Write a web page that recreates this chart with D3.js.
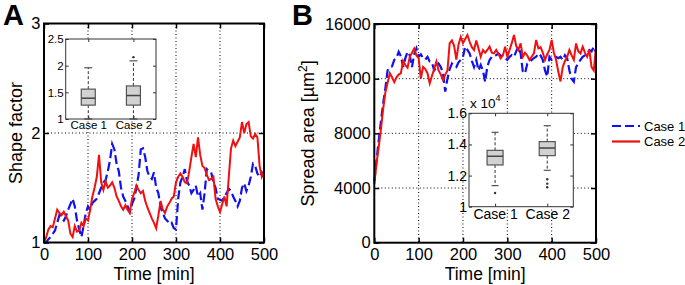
<!DOCTYPE html>
<html>
<head>
<meta charset="utf-8">
<script src="https://cdn.jsdelivr.net/npm/d3@7"></script>
<style>
body { margin: 0; background: #fff; }
text { font-family: "Liberation Sans", Arial, sans-serif; fill: #000; }
</style>
</head>
<body>
<div id="chart-area"></div>
<script>
// data: sampled every 5 min from 0 to 500
const step = 5;
const timeTicks = [0, 100, 200, 300, 400, 500];
const seriesNames = ['Case 1', 'Case 2'];

const shapeCase1 = [1.0, 1.0, 1.03, 1.05, 1.08, 1.11, 1.18, 1.25, 1.22, 1.2, 1.24, 1.3, 1.35, 1.4, 1.33, 1.2, 1.12, 1.05, 1.15, 1.27,
    1.33, 1.3, 1.36, 1.38, 1.4, 1.45, 1.5, 1.55, 1.57, 1.65, 1.75, 1.9, 1.85, 1.72, 1.65, 1.5, 1.42, 1.38, 1.33, 1.28,
    1.35, 1.4, 1.5, 1.62, 1.85, 1.86, 1.78, 1.65, 1.6, 1.58, 1.64, 1.5, 1.45, 1.32, 1.27, 1.22, 1.2, 1.17, 1.18, 1.13,
    1.12, 1.4, 1.55, 1.6, 1.67, 1.56, 1.52, 1.45, 1.48, 1.52, 1.42, 1.45, 1.3, 1.45, 1.67, 1.65, 1.64, 1.55, 1.5, 1.4,
    1.39, 1.38, 1.42, 1.45, 1.49, 1.47, 1.42, 1.38, 1.33, 1.38, 1.5, 1.54, 1.47, 1.52, 1.6, 1.72, 1.7, 1.63, 1.6, 1.64, 1.6];
const shapeCase2 = [1.0, 1.05, 1.12, 1.15, 1.14, 1.22, 1.3, 1.27, 1.25, 1.28, 1.24, 1.2, 1.08, 1.05, 1.15, 1.1, 1.11, 1.18, 1.15, 1.22,
    1.2, 1.3, 1.42, 1.5, 1.6, 1.8, 1.55, 1.48, 1.56, 1.5, 1.52, 1.55, 1.5, 1.42, 1.38, 1.33, 1.3, 1.34, 1.3, 1.27,
    1.4, 1.45, 1.52, 1.48, 1.45, 1.47, 1.38, 1.32, 1.27, 1.22, 1.18, 1.13, 1.25, 1.38, 1.3, 1.27, 1.33, 1.36, 1.4, 1.42,
    1.55, 1.6, 1.63, 1.6, 1.55, 1.54, 1.65, 1.78, 1.9, 1.78, 1.96, 1.8, 1.7, 1.68, 1.62, 1.57, 1.58, 1.6, 1.4, 1.33,
    1.28, 1.35, 1.42, 1.33, 1.6, 1.86, 1.93, 1.88, 1.92, 1.96, 2.1, 2.0, 2.08, 2.1, 1.97, 1.95, 1.99, 1.96, 1.7, 1.6, 1.65];

const areaCase1 = [4500, 6000, 7500, 8900, 10200, 11300, 12600, 12850, 12900, 13370, 13500, 13970, 13650, 12850, 13500, 13970, 13700, 12850, 13800, 14220,
    13600, 13780, 13500, 13400, 13600, 13250, 13200, 12600, 12800, 13100, 12850, 12400, 11050, 12000, 12700, 13100, 12900, 12850, 13200, 13370,
    13600, 14340, 14100, 13850, 13300, 12850, 13370, 12600, 13000, 12600, 11780, 12900, 13370, 13600, 13700, 13720, 13850, 13700, 13600, 13500,
    13370, 13600, 13720, 13600, 14000, 14340, 13850, 12510, 12390, 13100, 13200, 13370, 13500, 13600, 13850, 13700, 13370, 12600, 12140, 13600,
    13370, 13450, 13600, 13500, 13600, 13370, 13720, 13500, 12600, 12000, 11780, 12850, 13100, 13370, 13600, 13700, 13850, 14100, 14000, 14340, 13900];
const areaCase2 = [4300, 5800, 7000, 8300, 9800, 11000, 11700, 12400, 12100, 11750, 12100, 12300, 12400, 13300, 13000, 12800, 13600, 13900, 14200, 13700,
    13500, 12000, 12850, 12700, 12400, 11660, 12200, 12700, 13250, 12600, 12300, 11900, 12300, 12600, 14600, 14800, 14400, 13400, 14500, 15050,
    14600, 14900, 15200, 14700, 14300, 14100, 14800, 14200, 13600, 14100, 13900, 14100, 14350, 13900, 13850, 14100, 13800, 13480, 13700, 14340,
    13600, 14100, 14600, 15200, 14400, 14100, 14580, 13600, 13900, 13700, 13370, 13600, 13850, 14830, 14220, 14300, 13900, 13370, 13800, 14100,
    14830, 13900, 13370, 12500, 11800, 12850, 13300, 13600, 14100, 13700, 13370, 14580, 14000, 13850, 14340, 13900, 13600, 14100, 12850, 12600, 14300];

// box plot stats (low whisker, q1, median, q3, high whisker, outliers)
const shapeBoxLow = [1.0, 1.0];
const shapeBoxQ1 = [1.26, 1.26];
const shapeBoxMedian = [1.39, 1.44];
const shapeBoxQ3 = [1.56, 1.62];
const shapeBoxHigh = [1.96, 2.09];
const shapeBoxOutliers = [[], [2.16]];

// spread area box plot in units of 10^4 um^2
const areaBoxLow = [1.135, 1.234];
const areaBoxQ1 = [1.268, 1.328];
const areaBoxMedian = [1.324, 1.377];
const areaBoxQ3 = [1.362, 1.418];
const areaBoxHigh = [1.478, 1.52];
const areaBoxOutliers = [[1.088], [1.176, 1.148, 1.125]];

const colors = ['#1010f0', '#f01010'];

const svg = d3.select('#chart-area')
    .append('svg')
        .attr('width', 685)
        .attr('height', 285);

function drawPanel(p) {
    const g = svg.append('g');
    const x = d3.scaleLinear().domain([0, 500]).range([p.left, p.right]);
    const y = d3.scaleLinear().domain(p.yDomain).range([p.bottom, p.top]);

    // dotted grid
    g.selectAll('.vgrid')
        .data([100, 200, 300, 400])
        .enter()
            .append('line')
                .attr('x1', d => x(d)).attr('x2', d => x(d))
                .attr('y1', p.top).attr('y2', p.bottom)
                .attr('stroke', '#000')
                .attr('stroke-width', 1)
                .attr('stroke-dasharray', '1,2.5');
    g.selectAll('.hgrid')
        .data(p.yGrid)
        .enter()
            .append('line')
                .attr('x1', p.left).attr('x2', p.right)
                .attr('y1', d => y(d)).attr('y2', d => y(d))
                .attr('stroke', '#000')
                .attr('stroke-width', 1)
                .attr('stroke-dasharray', '1,2.5');

    p.drawInset(g);

    // series
    const line = d3.line()
        .x((d, i) => x(i * step))
        .y(d => y(d));
    g.append('path')
        .datum(p.series[0])
        .attr('d', line)
        .attr('fill', 'none')
        .attr('stroke', colors[0])
        .attr('stroke-width', 2.2)
        .attr('stroke-dasharray', '9,4');
    g.append('path')
        .datum(p.series[1])
        .attr('d', line)
        .attr('fill', 'none')
        .attr('stroke', colors[1])
        .attr('stroke-width', 2);

    // axes with inward ticks on all four sides
    const bottom = g.append('g')
        .attr('transform', `translate(0, ${p.bottom})`)
        .call(d3.axisBottom(x).tickValues(timeTicks).tickSize(-5).tickPadding(6));
    const top = g.append('g')
        .attr('transform', `translate(0, ${p.top})`)
        .call(d3.axisTop(x).tickValues(timeTicks).tickSize(-5).tickFormat(''));
    const left = g.append('g')
        .attr('transform', `translate(${p.left}, 0)`)
        .call(d3.axisLeft(y).tickValues(p.yTicks).tickSize(-5).tickPadding(3.5).tickFormat(p.yFormat));
    const right = g.append('g')
        .attr('transform', `translate(${p.right}, 0)`)
        .call(d3.axisRight(y).tickValues(p.yTicks).tickSize(-5).tickFormat(''));
    [bottom, top, left, right].forEach(a => {
        a.select('.domain').remove();
        a.selectAll('line').attr('stroke', '#000').attr('stroke-width', 1.5);
        a.selectAll('text').attr('font-size', '16.5px').attr('fill', '#000');
    });

    g.append('rect')
        .attr('x', p.left).attr('y', p.top)
        .attr('width', p.right - p.left).attr('height', p.bottom - p.top)
        .attr('fill', 'none')
        .attr('stroke', '#000')
        .attr('stroke-width', 2);

    // labels
    g.append('text')
        .attr('x', (p.left + p.right) / 2)
        .attr('y', 280)
        .attr('font-size', '17.5px')
        .attr('text-anchor', 'middle')
        .text('Time [min]');

    const yl = g.append('text')
        .attr('transform', `translate(${p.yLabelX}, ${(p.top + p.bottom) / 2}) rotate(-90)`)
        .attr('font-size', '18px')
        .attr('text-anchor', 'middle');
    p.yLabel(yl);

    g.append('text')
        .attr('x', p.letterX)
        .attr('y', 25)
        .attr('font-size', '29px')
        .attr('font-weight', 'bold')
        .text(p.letter);
}

function drawBoxInset(g, b) {
    const ig = g.append('g');
    const x = d3.scaleLinear().domain([0.5, 2.5]).range([b.left, b.right]);
    const y = d3.scaleLinear().domain(b.yDomain).range([b.bottom, b.top]);

    ig.append('rect')
        .attr('x', b.left).attr('y', b.top)
        .attr('width', b.right - b.left).attr('height', b.bottom - b.top)
        .attr('fill', '#fff');

    const pos = [1, 2];
    pos.forEach((p, i) => {
        const cx = x(p);
        // whiskers
        [[b.q3[i], b.high[i]], [b.q1[i], b.low[i]]].forEach(w => {
            ig.append('line')
                .attr('x1', cx).attr('x2', cx)
                .attr('y1', y(w[0])).attr('y2', y(w[1]))
                .attr('stroke', '#333')
                .attr('stroke-width', 1)
                .attr('stroke-dasharray', '3,2');
        });
        [b.high[i], b.low[i]].forEach(v => {
            ig.append('line')
                .attr('x1', cx - b.capW / 2).attr('x2', cx + b.capW / 2)
                .attr('y1', y(v)).attr('y2', y(v))
                .attr('stroke', '#333')
                .attr('stroke-width', 1);
        });
        ig.append('rect')
            .attr('x', cx - b.boxW / 2)
            .attr('y', y(b.q3[i]))
            .attr('width', b.boxW)
            .attr('height', y(b.q1[i]) - y(b.q3[i]))
            .attr('fill', '#d2d2d2')
            .attr('stroke', '#555')
            .attr('stroke-width', 1.2);
        ig.append('line')
            .attr('x1', cx - b.boxW / 2).attr('x2', cx + b.boxW / 2)
            .attr('y1', y(b.median[i])).attr('y2', y(b.median[i]))
            .attr('stroke', '#444')
            .attr('stroke-width', 1.5);
        ig.selectAll(null)
            .data(b.outliers[i])
            .enter()
                .append('circle')
                    .attr('cx', cx)
                    .attr('cy', d => y(d))
                    .attr('r', 1.2)
                    .attr('fill', '#333');
    });

    const ax = [
        g.append('g').attr('transform', `translate(0, ${b.bottom})`)
            .call(d3.axisBottom(x).tickValues(pos).tickSize(-3).tickPadding(2).tickFormat((d, i) => seriesNames[i])),
        g.append('g').attr('transform', `translate(0, ${b.top})`)
            .call(d3.axisTop(x).tickValues(pos).tickSize(-3).tickFormat('')),
        g.append('g').attr('transform', `translate(${b.left}, 0)`)
            .call(d3.axisLeft(y).tickValues(b.yTicks).tickSize(-3).tickPadding(2).tickFormat(b.yFormat)),
        g.append('g').attr('transform', `translate(${b.right}, 0)`)
            .call(d3.axisRight(y).tickValues(b.yTicks).tickSize(-3).tickFormat(''))
    ];
    ax.forEach(a => {
        a.select('.domain').remove();
        a.selectAll('line').attr('stroke', '#333');
        a.selectAll('text').attr('font-size', b.fontSize).attr('fill', '#000');
    });

    ig.append('rect')
        .attr('x', b.left).attr('y', b.top)
        .attr('width', b.right - b.left).attr('height', b.bottom - b.top)
        .attr('fill', 'none')
        .attr('stroke', '#333')
        .attr('stroke-width', 1);
    return ig;
}

// panel A
drawPanel({
    letter: 'A', letterX: 3,
    left: 44, right: 264, top: 23.5, bottom: 242.5,
    yDomain: [1, 3], yTicks: [1, 2, 3], yGrid: [2],
    yFormat: d3.format('d'),
    yLabelX: 22,
    yLabel: t => t.text('Shape factor'),
    series: [shapeCase1, shapeCase2],
    drawInset: g => drawBoxInset(g, {
        left: 65.7, right: 156, top: 39, bottom: 119,
        yDomain: [1, 2.5], yTicks: [1, 1.5, 2, 2.5], yFormat: d => d,
        boxW: 14, capW: 8, fontSize: '11.5px',
        low: shapeBoxLow, q1: shapeBoxQ1, median: shapeBoxMedian, q3: shapeBoxQ3,
        high: shapeBoxHigh, outliers: shapeBoxOutliers
    })
});

// panel B
drawPanel({
    letter: 'B', letterX: 292,
    left: 374.3, right: 596, top: 24, bottom: 242.7,
    yDomain: [0, 16000], yTicks: [0, 4000, 8000, 12000, 16000], yGrid: [4000, 8000, 12000],
    yFormat: d3.format('d'),
    yLabelX: 314,
    yLabel: t => {
        t.append('tspan').text('Spread area [µm');
        t.append('tspan').attr('font-size', '12px').attr('dy', -7).text('2');
        t.append('tspan').attr('dy', 7).text(']');
    },
    series: [areaCase1, areaCase2],
    drawInset: g => {
        drawBoxInset(g, {
            left: 469, right: 573.3, top: 113.3, bottom: 206.7,
            yDomain: [1, 1.6], yTicks: [1, 1.2, 1.4, 1.6],
            yFormat: d => d === 1 ? '1' : d3.format('.1f')(d),
            boxW: 16, capW: 7, fontSize: '14px',
            low: areaBoxLow, q1: areaBoxQ1, median: areaBoxMedian, q3: areaBoxQ3,
            high: areaBoxHigh, outliers: areaBoxOutliers
        });
        const e = g.append('text')
            .attr('x', 470)
            .attr('y', 108)
            .attr('font-size', '13.5px');
        e.append('tspan').text('x 10');
        e.append('tspan').attr('font-size', '9px').attr('dy', -7).text('4');
    }
});

// legend
const legend = svg.append('g')
    .attr('transform', 'translate(612, 126)');
seriesNames.forEach((name, i) => {
    const row = legend.append('g').attr('transform', `translate(0, ${i * 15.5})`);
    row.append('line')
        .attr('x1', 0).attr('x2', 28)
        .attr('stroke', colors[i])
        .attr('stroke-width', 2.2)
        .attr('stroke-dasharray', i === 0 ? '9,4' : null);
    row.append('text')
        .attr('x', 32)
        .attr('y', 4.5)
        .attr('font-size', '13px')
        .text(name);
});
</script>
</body>
</html>
